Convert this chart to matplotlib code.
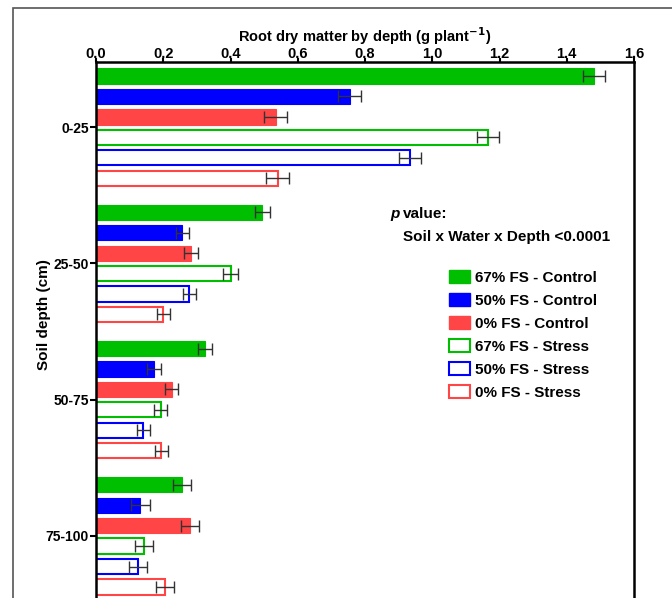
import matplotlib.pyplot as plt
import numpy as np
from matplotlib.patches import Patch, Rectangle

plt.rcParams['font.family'] = ['Liberation Sans', 'DejaVu Sans']
plt.rcParams['font.weight'] = 'bold'

depths = ["0-25", "25-50", "50-75", "75-100"]
labels = ["67% FS - Control", "50% FS - Control", "0% FS - Control",
          "67% FS - Stress", "50% FS - Stress", "0% FS - Stress"]
colors = ["#00bf00", "#0000ff", "#ff4545", "#00bf00", "#0000ff", "#ff4545"]
filled = [True, True, True, False, False, False]

# root dry matter (g plant-1) for each treatment, per depth layer
ctrl_67 = [1.48, 0.494, 0.324, 0.257]
ctrl_50 = [0.755, 0.257, 0.173, 0.132]
ctrl_0 = [0.535, 0.282, 0.225, 0.280]
stress_67 = [1.166, 0.400, 0.192, 0.143]
stress_50 = [0.934, 0.278, 0.141, 0.125]
stress_0 = [0.540, 0.200, 0.194, 0.205]

err_ctrl_67 = [0.033, 0.022, 0.02, 0.027]
err_ctrl_50 = [0.034, 0.02, 0.02, 0.028]
err_ctrl_0 = [0.034, 0.02, 0.02, 0.027]
err_stress_67 = [0.032, 0.022, 0.02, 0.027]
err_stress_50 = [0.034, 0.02, 0.02, 0.027]
err_stress_0 = [0.035, 0.02, 0.02, 0.027]

series = [ctrl_67, ctrl_50, ctrl_0, stress_67, stress_50, stress_0]
errors = [err_ctrl_67, err_ctrl_50, err_ctrl_0, err_stress_67, err_stress_50, err_stress_0]

fig = plt.figure(figsize=(6.72, 5.98), dpi=100)
ax = fig.add_axes([96 / 672, 1 - 601 / 598, (634 - 96) / 672, (601 - 62) / 598])

# outer frame
fig.patches.append(Rectangle((13 / 672, -0.1), 1.2, 1 - 8 / 598 + 0.1,
                             transform=fig.transFigure, fill=False,
                             edgecolor="#555555", linewidth=1.2))

step = 0.15
height = 0.112
base = np.arange(len(depths))
for i, (vals, errs) in enumerate(zip(series, errors)):
    y = base + (i - 2.5) * step
    if filled[i]:
        ax.barh(y, vals, height=height, color=colors[i], edgecolor=colors[i],
                linewidth=0.8)
    else:
        ax.barh(y, vals, height=height, color="white", edgecolor=colors[i],
                linewidth=1.5)
    ax.errorbar(vals, y, xerr=errs, fmt="none", ecolor="#333333",
                elinewidth=1, capsize=4, capthick=1)

ax.set_xlim(0, 1.6)
ax.set_ylim(3.478, -0.478)
ax.set_xticks(np.arange(0, 1.61, 0.2))
ax.set_xticklabels(["%.1f" % t for t in np.arange(0, 1.61, 0.2)])
ax.set_yticks(base)
ax.set_yticklabels(depths)
ax.xaxis.tick_top()
ax.xaxis.set_label_position("top")
ax.tick_params(axis="x", labelsize=10.5, width=1.5, length=3, pad=-2)
ax.tick_params(axis="y", labelsize=10, width=1.5, length=4, pad=1)
for s in ax.spines.values():
    s.set_linewidth(1.8)
ax.spines["bottom"].set_visible(False)

ax.set_xlabel("Root dry matter by depth (g plant$^{\\mathbf{-1}}$)", fontsize=10.5,
              fontweight="bold", labelpad=3)
ax.set_ylabel("Soil depth (cm)", fontsize=11, fontweight="bold")
ax.yaxis.set_label_coords(-45 / 538, 1 - (315 - 62) / 539)

ax.text(0.547, 0.718, "p", transform=ax.transAxes, fontsize=11,
        fontweight="bold", style="italic", ha="left", va="center")
ax.text(0.571, 0.718, "value:", transform=ax.transAxes, fontsize=11,
        fontweight="bold", ha="left", va="center")
ax.text(0.571, 0.675, "Soil x Water x Depth <0.0001", transform=ax.transAxes,
        fontsize=11, fontweight="bold", ha="left", va="center")

handles = []
for i in range(6):
    if filled[i]:
        handles.append(Patch(facecolor=colors[i], edgecolor=colors[i]))
    else:
        handles.append(Patch(facecolor="white", edgecolor=colors[i], linewidth=1.5))
ax.legend(handles, labels, loc="upper left", bbox_to_anchor=(0.63, 0.639),
          frameon=False, fontsize=11, handlelength=1.4, handleheight=0.9,
          labelspacing=0.55, handletextpad=0.35)

fig.savefig("out.png", dpi=100)
